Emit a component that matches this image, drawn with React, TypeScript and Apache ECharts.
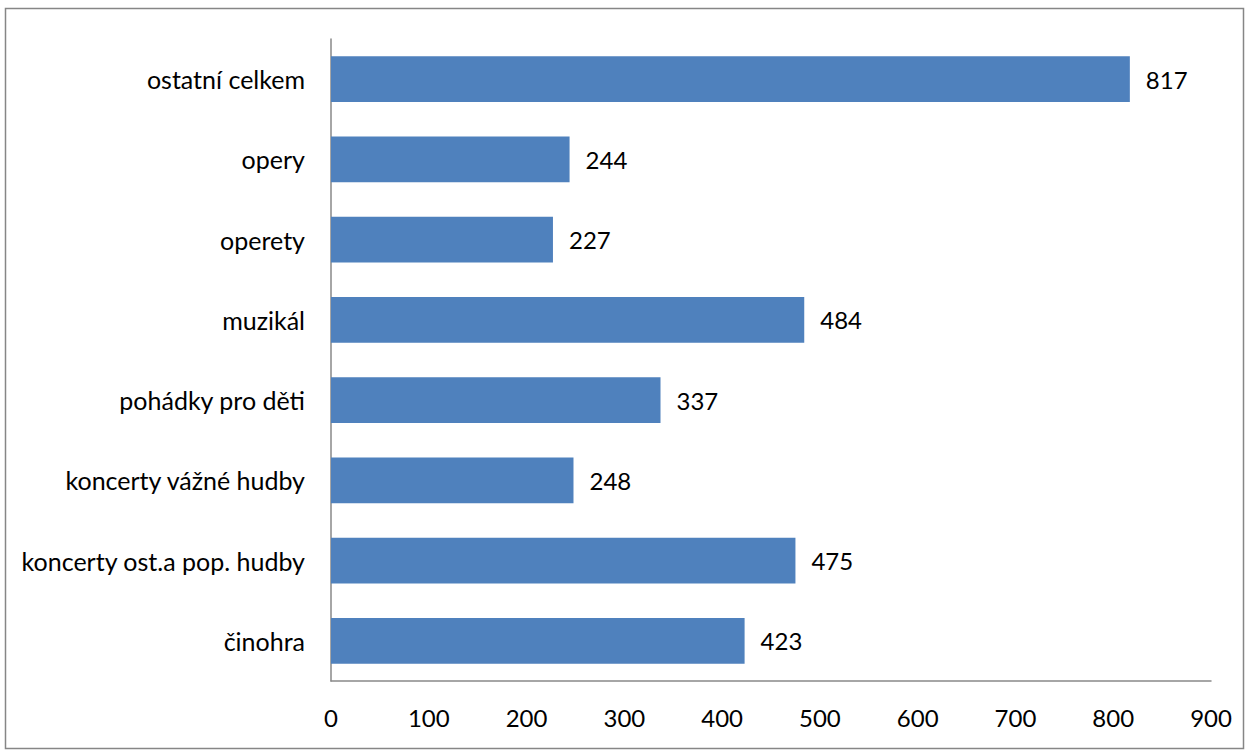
import React, { useEffect, useRef } from "react";
import * as echarts from "echarts";

const categories = [
  "činohra",
  "koncerty ost.a pop. hudby",
  "koncerty vážné hudby",
  "pohádky pro děti",
  "muzikál",
  "operety",
  "opery",
  "ostatní celkem",
];
const values = [423, 475, 248, 337, 484, 227, 244, 817];
const xTicks = { min: 0, max: 900, interval: 100 };

const FONT = "Lato";
const FS = 24;

export default function App() {
  const ref = useRef<HTMLDivElement>(null);
  useEffect(() => {
    if (!ref.current) return;
    const chart = echarts.init(ref.current, null, { renderer: "svg" });
    chart.setOption({
      animation: false,
      textStyle: { fontFamily: FONT },
      graphic: [
        {
          type: "rect",
          shape: { x: 5.5, y: 8.5, width: 1238, height: 740 },
          style: { fill: "none", stroke: "#868686", lineWidth: 1.5 },
          silent: true,
        },
      ],
      grid: { left: 331, right: 39, top: 39, bottom: 70, containLabel: false },
      xAxis: {
        type: "value",
        min: xTicks.min,
        max: xTicks.max,
        interval: xTicks.interval,
        splitLine: { show: false },
        axisLine: { show: true, lineStyle: { color: "#898989", width: 1.5 } },
        axisTick: { show: false },
        axisLabel: { color: "#000", fontSize: FS, fontFamily: FONT, margin: 24 },
      },
      yAxis: {
        type: "category",
        data: categories,
        axisLine: { show: true, lineStyle: { color: "#898989", width: 1.5 } },
        axisTick: { show: false },
        axisLabel: { color: "#000", fontSize: 25, fontFamily: FONT, margin: 26 },
      },
      series: [
        {
          type: "bar",
          data: values,
          barCategoryGap: "43%",
          itemStyle: { color: "#4F81BD" },
          label: {
            show: true,
            position: "right",
            distance: 16,
            color: "#000",
            fontSize: FS,
            fontFamily: FONT,
          },
        },
      ],
    });
    return () => chart.dispose();
  }, []);
  return (
    <div
      ref={ref}
      style={{ position: "fixed", left: 0, top: 0, width: 1250, height: 751, background: "#fff" }}
    />
  );
}
